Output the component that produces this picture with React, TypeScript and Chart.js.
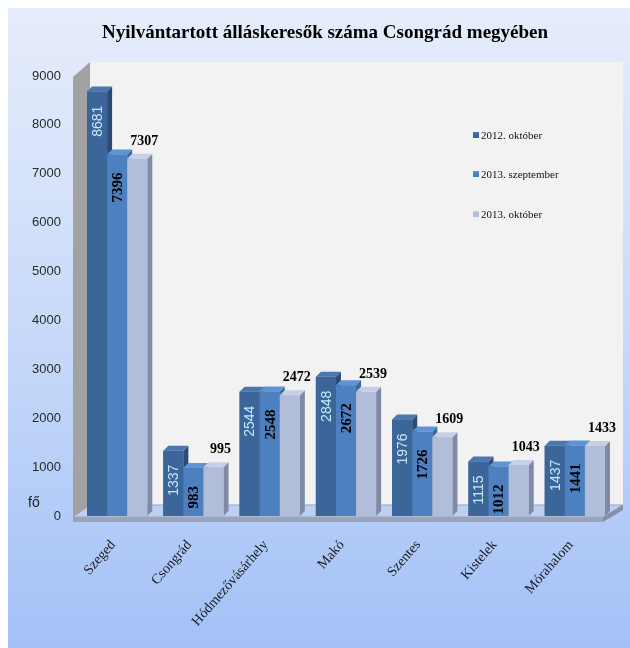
import React, { useEffect, useRef } from "react";
import { Chart, registerables } from "chart.js";

Chart.register(...registerables);

// ---- data ----
const categories = ["Szeged", "Csongrád", "Hódmezővásárhely", "Makó", "Szentes", "Kistelek", "Mórahalom"];
const seriesNames = ["2012. október", "2013. szeptember", "2013. október"];
const oct2012 = [8681, 1337, 2544, 2848, 1976, 1115, 1437];
const sep2013 = [7396, 983, 2548, 2672, 1726, 1012, 1441];
const oct2013 = [7307, 995, 2472, 2539, 1609, 1043, 1433];
const yMin = 0;
const yMax = 9000;
const yStep = 1000;
const titleText = "Nyilvántartott álláskeresők száma Csongrád megyében";
const yUnit = "fő";

// ---- styles ----
const FRONT = ["#3c659a", "#4d80bf", "#b2bed9"];
const TOP = ["#4b77ae", "#6093d1", "#c6d0e6"];
const SIDE = ["#2b4a74", "#3a669d", "#7f8ba6"];
const DX = 5;
const DY = 5;

const scenePlugin = {
  id: "scene3d",
  beforeDraw(chart: any) {
    const { ctx, width, height, chartArea: a } = chart;
    ctx.save();
    const g = ctx.createLinearGradient(0, 0, 0, height);
    g.addColorStop(0, "#e6edfb");
    g.addColorStop(0.5, "#c8daf9");
    g.addColorStop(1, "#a3c1f7");
    ctx.fillStyle = g;
    ctx.fillRect(0, 0, width, height);

    const fl = a.left - 6; // front-left x of walls
    const bl = a.left + 11; // back-left x
    const br = a.right + 10; // back-right x
    const fr = a.right - 10; // floor front-right x
    const topF = a.top + 1;
    const topB = a.top - 14;
    const botF = a.bottom + 1;
    const botB = a.bottom - 11;

    // back wall
    ctx.fillStyle = "#f2f2f2";
    ctx.fillRect(bl, topB, br - bl, botB - topB);

    // side wall
    ctx.fillStyle = "#a2a2a2";
    ctx.beginPath();
    ctx.moveTo(fl, topF);
    ctx.lineTo(bl, topB);
    ctx.lineTo(bl, botB);
    ctx.lineTo(fl, botF);
    ctx.closePath();
    ctx.fill();

    // floor top
    ctx.fillStyle = "#bdd0f4";
    ctx.beginPath();
    ctx.moveTo(fl, botF);
    ctx.lineTo(bl, botB);
    ctx.lineTo(br, botB);
    ctx.lineTo(fr, botF);
    ctx.closePath();
    ctx.fill();
    ctx.strokeStyle = "#98a4bb";
    ctx.lineWidth = 1;
    ctx.stroke();

    // floor thickness
    ctx.fillStyle = "#9aa5ba";
    ctx.fillRect(fl, botF, fr - fl, 5);
    ctx.fillStyle = "#8490a7";
    ctx.beginPath();
    ctx.moveTo(fr, botF);
    ctx.lineTo(br, botB);
    ctx.lineTo(br, botB + 5);
    ctx.lineTo(fr, botF + 5);
    ctx.closePath();
    ctx.fill();
    ctx.restore();
  },
  afterDatasetsDraw(chart: any) {
    const { ctx } = chart;
    ctx.save();
    const bars: any[] = [];
    chart.data.datasets.forEach((ds: any, di: number) => {
      const meta = chart.getDatasetMeta(di);
      meta.data.forEach((el: any, i: number) => {
        const p = el.getProps(["x", "y", "base", "width"], true);
        bars.push({ di, i, ...p, v: ds.data[i] });
      });
    });
    // draw in series order so later bars hide sides of earlier ones
    for (const b of bars) {
      const x0 = b.x - b.width / 2;
      const x1 = b.x + b.width / 2;
      ctx.fillStyle = SIDE[b.di];
      ctx.beginPath();
      ctx.moveTo(x1, b.y);
      ctx.lineTo(x1 + DX, b.y - DY);
      ctx.lineTo(x1 + DX, b.base - DY);
      ctx.lineTo(x1, b.base);
      ctx.closePath();
      ctx.fill();
      ctx.fillStyle = FRONT[b.di];
      ctx.fillRect(x0, b.y, b.width, b.base - b.y);
      ctx.fillStyle = TOP[b.di];
      ctx.beginPath();
      ctx.moveTo(x0, b.y);
      ctx.lineTo(x0 + DX, b.y - DY);
      ctx.lineTo(x1 + DX, b.y - DY);
      ctx.lineTo(x1, b.y);
      ctx.closePath();
      ctx.fill();
    }
    // labels
    for (const b of bars) {
      const txt = String(b.v);
      if (b.di === 2) {
        ctx.font = "bold 14px 'Liberation Serif'";
        ctx.fillStyle = "#000";
        ctx.textAlign = "center";
        ctx.textBaseline = "alphabetic";
        ctx.fillText(txt, b.x + 7, b.y - 14);
      } else {
        ctx.save();
        ctx.translate(b.x + 1, b.y + (b.di === 0 ? 14 : 18));
        ctx.rotate(-Math.PI / 2);
        ctx.textAlign = "right";
        ctx.textBaseline = "middle";
        if (b.di === 0) {
          ctx.font = "14px 'Liberation Sans'";
          ctx.fillStyle = "#c4eaf5";
        } else {
          ctx.font = "bold 15px 'Liberation Serif'";
          ctx.fillStyle = "#000";
        }
        ctx.fillText(txt, 0, 0);
        ctx.restore();
      }
    }
    ctx.restore();
  },
  afterDraw(chart: any) {
    const { ctx, width, chartArea: a } = chart;
    ctx.save();
    // title
    ctx.font = "bold 19px 'Liberation Serif'";
    ctx.fillStyle = "#000";
    ctx.textAlign = "center";
    ctx.textBaseline = "middle";
    ctx.fillText(titleText, width / 2 + 6, 25);

    // unit label
    ctx.font = "14px 'Liberation Sans'";
    ctx.fillStyle = "#222";
    ctx.textAlign = "left";
    ctx.fillText(yUnit, 20, a.bottom - 13);

    // legend
    const lx = 465;
    const ly = [127, 166, 206];
    ctx.font = "11px 'Liberation Serif'";
    chart.data.datasets.forEach((ds: any, i: number) => {
      ctx.fillStyle = FRONT[i];
      ctx.fillRect(lx, ly[i] - 3, 6, 6);
      ctx.fillStyle = TOP[i];
      ctx.fillRect(lx, ly[i] - 3, 6, 1.5);
      ctx.fillStyle = "#111";
      ctx.textAlign = "left";
      ctx.textBaseline = "middle";
      ctx.fillText(ds.label, lx + 8, ly[i] + 1);
    });
    ctx.restore();
  },
};

export default function App() {
  const ref = useRef<HTMLCanvasElement>(null);
  useEffect(() => {
    const chart = new Chart(ref.current as HTMLCanvasElement, {
      type: "bar",
      data: {
        labels: categories,
        datasets: [oct2012, sep2013, oct2013].map((d, i) => ({
          label: seriesNames[i],
          data: d,
          backgroundColor: FRONT[i],
          borderWidth: 0,
          categoryPercentage: 0.79,
          barPercentage: 1.0,
        })),
      },
      options: {
        animation: false,
        responsive: false,
        maintainAspectRatio: false,
        events: [],
        layout: { padding: { left: 0, right: 17, top: 68, bottom: 0 } },
        plugins: {
          legend: { display: false },
          title: { display: false },
          tooltip: { enabled: false },
        },
        scales: {
          x: {
            grid: { display: false, drawTicks: false },
            border: { display: false },
            ticks: {
              autoSkip: false,
              maxRotation: 49,
              minRotation: 49,
              padding: 21,
              labelOffset: -4,
              color: "#1a1a1a",
              font: { family: "'Liberation Serif'", size: 14 },
            },
            afterFit: (s: any) => {
              s.height = 132;
            },
          },
          y: {
            min: yMin,
            max: yMax,
            grid: { display: false, drawTicks: false },
            border: { display: false },
            ticks: {
              stepSize: yStep,
              padding: 18,
              color: "#2a2a2a",
              font: { family: "'Liberation Sans'", size: 13 },
              callback: (v: any) => String(v),
            },
            afterFit: (s: any) => {
              s.width = 71;
            },
          },
        },
      },
      plugins: [scenePlugin],
    });
    return () => chart.destroy();
  }, []);
  return (
    <div style={{ position: "fixed", left: 8, top: 8, width: 622, height: 640 }}>
      <canvas ref={ref} width={622} height={640} style={{ display: "block" }} />
    </div>
  );
}
